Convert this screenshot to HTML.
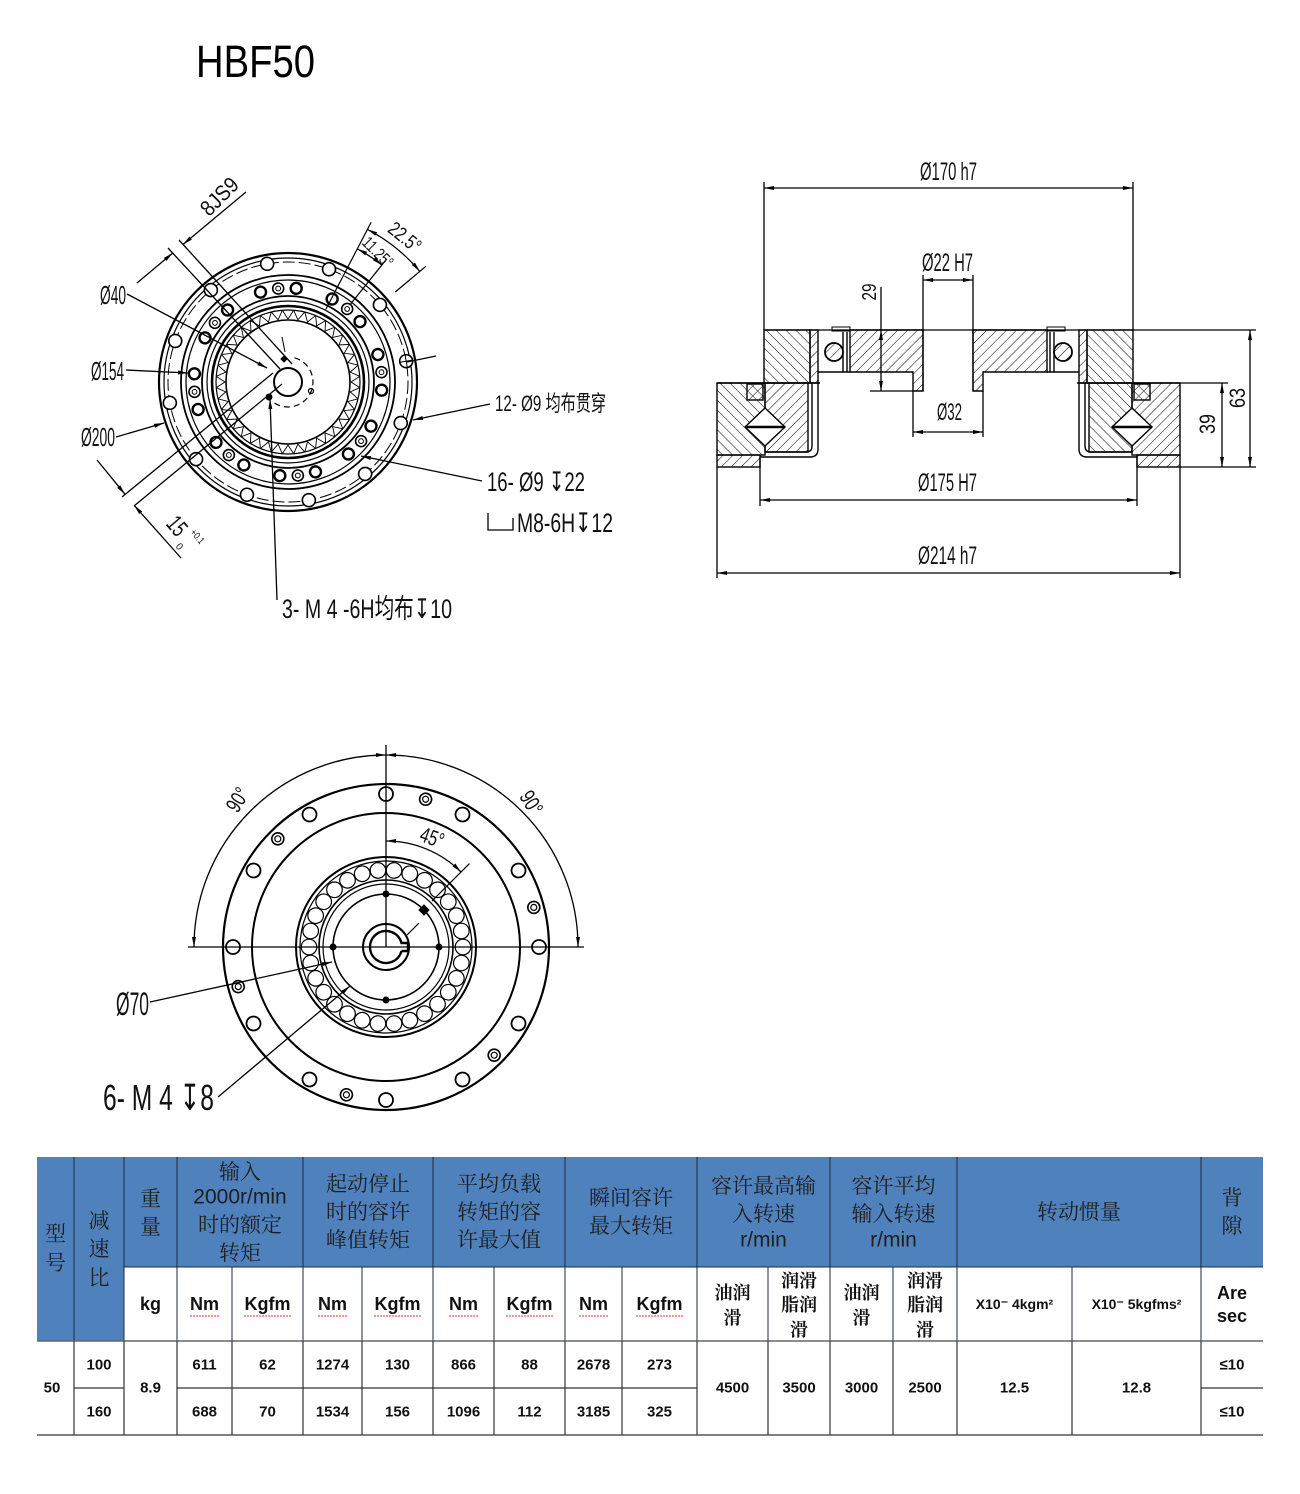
<!DOCTYPE html>
<html><head><meta charset="utf-8"><style>
html,body{margin:0;padding:0;background:#fff;}
svg{display:block}
.d{font-family:"Liberation Sans","Noto Sans CJK SC","DejaVu Sans",sans-serif;fill:#111;stroke:none}
.h{font-family:"Noto Serif CJK SC","Liberation Serif",serif;fill:#1e1e1e;stroke:none;font-size:21px}
.hs{font-family:"Liberation Sans",sans-serif;fill:#1e1e1e;stroke:none;font-size:21px}
.b{font-family:"Liberation Sans","Noto Sans CJK SC",sans-serif;font-weight:bold;fill:#111;stroke:none;font-size:18px}
.bc{font-family:"Noto Serif CJK SC","Noto Sans CJK SC",serif;font-weight:bold;fill:#111;stroke:none;font-size:18px}
.v{font-family:"Liberation Sans","DejaVu Sans",sans-serif;font-weight:bold;fill:#111;stroke:none;font-size:15px}
</style></head><body>
<svg width="1300" height="1494" viewBox="0 0 1300 1494" xmlns="http://www.w3.org/2000/svg">
<defs>
<marker id="ar" viewBox="0 0 10 10" refX="10" refY="5" markerWidth="10" markerHeight="10" markerUnits="userSpaceOnUse" orient="auto-start-reverse"><path d="M0,3 L10,5 L0,7z" fill="#000" stroke="none"/></marker>
<pattern id="hF" patternUnits="userSpaceOnUse" width="7" height="7" patternTransform="rotate(45)"><line x1="0" y1="0" x2="0" y2="7" stroke="#000" stroke-width="1"/></pattern>
<pattern id="hB" patternUnits="userSpaceOnUse" width="7" height="7" patternTransform="rotate(-45)"><line x1="0" y1="0" x2="0" y2="7" stroke="#000" stroke-width="1"/></pattern>
<g id="grp" fill="none" stroke="#000">
<circle cx="94" r="5.5" stroke-width="2.4" transform="rotate(-11)"/>
<circle cx="94" r="5.5" stroke-width="1.6"/>
<circle cx="94" r="2.4" stroke-width="1"/>
<circle cx="94" r="5.5" stroke-width="2.4" transform="rotate(11)"/>
</g>
<path id="th" d="M71.8,-5.65 L63,0 L71.8,5.65" fill="none" stroke="#000" stroke-width="0.9"/>
<circle id="rl" cx="77" r="7.8" fill="none" stroke="#000" stroke-width="1.2"/>
<g id="dh" fill="none" stroke="#000"><circle cx="153" r="6" stroke-width="1.6"/><circle cx="153" r="3" stroke-width="1.2"/></g>
</defs>

<!-- Title -->
<text x="196" y="77" font-size="45" textLength="119" lengthAdjust="spacingAndGlyphs" font-family="Liberation Sans, sans-serif" fill="#000">HBF50</text>

<!-- ============ TOP-LEFT FRONT VIEW ============ -->
<g fill="none" stroke="#000">
<g transform="translate(288,382)">
 <circle r="129" stroke-width="2.2"/>
 <circle r="124" stroke-width="1.2"/>
 <circle r="120" stroke-width="1" stroke-dasharray="12 4"/>
 <circle r="107" stroke-width="1.8"/>
 <circle r="102" stroke-width="1.2"/>
 <circle r="86" stroke-width="1.8"/>
 <circle r="81" stroke-width="1.2"/>
 <circle r="76" stroke-width="2.6"/>
 <circle r="72" stroke-width="1.2"/>
 <circle r="62" stroke-width="1.6"/>
 <g stroke-width="1.6" fill="#fff">
  <circle cx="120" r="6.5" transform="rotate(-100)"/>
  <circle cx="120" r="6.5" transform="rotate(-70)"/>
  <circle cx="120" r="6.5" transform="rotate(-40)"/>
  <circle cx="120" r="6.5" transform="rotate(-10)"/>
  <circle cx="120" r="6.5" transform="rotate(20)"/>
  <circle cx="120" r="6.5" transform="rotate(50)"/>
  <circle cx="120" r="6.5" transform="rotate(80)"/>
  <circle cx="120" r="6.5" transform="rotate(110)"/>
  <circle cx="120" r="6.5" transform="rotate(140)"/>
  <circle cx="120" r="6.5" transform="rotate(170)"/>
  <circle cx="120" r="6.5" transform="rotate(200)"/>
  <circle cx="120" r="6.5" transform="rotate(230)"/>
 </g>
 <g transform="rotate(-10)" stroke-width="1"><line x1="113" y1="0" x2="127" y2="0"/><line x1="120" y1="-7" x2="120" y2="7"/></g>
 <use href="#grp" transform="rotate(-96)"/>
 <use href="#grp" transform="rotate(-51)"/>
 <use href="#grp" transform="rotate(-6)"/>
 <use href="#grp" transform="rotate(39)"/>
 <use href="#grp" transform="rotate(84)"/>
 <use href="#grp" transform="rotate(129)"/>
 <use href="#grp" transform="rotate(174)"/>
 <use href="#grp" transform="rotate(219)"/>
 <use href="#th" transform="rotate(0)"/><use href="#th" transform="rotate(9)"/><use href="#th" transform="rotate(18)"/><use href="#th" transform="rotate(27)"/><use href="#th" transform="rotate(36)"/>
 <use href="#th" transform="rotate(45)"/><use href="#th" transform="rotate(54)"/><use href="#th" transform="rotate(63)"/><use href="#th" transform="rotate(72)"/><use href="#th" transform="rotate(81)"/>
 <use href="#th" transform="rotate(90)"/><use href="#th" transform="rotate(99)"/><use href="#th" transform="rotate(108)"/><use href="#th" transform="rotate(117)"/><use href="#th" transform="rotate(126)"/>
 <use href="#th" transform="rotate(135)"/><use href="#th" transform="rotate(144)"/><use href="#th" transform="rotate(153)"/><use href="#th" transform="rotate(162)"/><use href="#th" transform="rotate(171)"/>
 <use href="#th" transform="rotate(180)"/><use href="#th" transform="rotate(189)"/><use href="#th" transform="rotate(198)"/><use href="#th" transform="rotate(207)"/><use href="#th" transform="rotate(216)"/>
 <use href="#th" transform="rotate(225)"/><use href="#th" transform="rotate(234)"/><use href="#th" transform="rotate(243)"/><use href="#th" transform="rotate(252)"/><use href="#th" transform="rotate(261)"/>
 <use href="#th" transform="rotate(270)"/><use href="#th" transform="rotate(279)"/><use href="#th" transform="rotate(288)"/><use href="#th" transform="rotate(297)"/><use href="#th" transform="rotate(306)"/>
 <use href="#th" transform="rotate(315)"/><use href="#th" transform="rotate(324)"/><use href="#th" transform="rotate(333)"/><use href="#th" transform="rotate(342)"/><use href="#th" transform="rotate(351)"/>
 <circle r="14" stroke-width="2"/>
 <path d="M6.47,-24.15 A25,25 0 1 1 -14.34,20.48" stroke-width="1.2" stroke-dasharray="6 4"/>
 <path d="M-4,-26 L-1,-23 L-4,-20 L-7,-23Z" fill="#000"/>
 <circle cx="23" cy="9" r="2.5" stroke-width="1.2"/>
 <circle cx="-19" cy="15" r="3" fill="#000"/>
 <line x1="-6" y1="-45" x2="-3" y2="-30" stroke-width="1"/>
 <line x1="82" y1="0" x2="180" y2="0" stroke-width="1.2" transform="rotate(-62.5)"/>
 <line x1="140" y1="0" x2="180" y2="0" stroke-width="1.2" transform="rotate(-40)"/>
 <line x1="100" y1="0" x2="158" y2="0" stroke-width="1.2" transform="rotate(-51.25)"/>
</g>
<g stroke-width="1.3">
 <path d="M367.4,229.4 A172,172 0 0 1 419.8,271.4" marker-start="url(#ar)" marker-end="url(#ar)"/>
 <path d="M357.3,248.9 A150,150 0 0 1 381.9,265" marker-start="url(#ar)" marker-end="url(#ar)"/>
 <line x1="168" y1="248" x2="280" y2="369"/>
 <line x1="179" y1="240" x2="292" y2="364"/>
 <line x1="137" y1="283" x2="172.8" y2="253" marker-end="url(#ar)"/>
 <line x1="246" y1="192" x2="183" y2="244.5" marker-end="url(#ar)"/>
 <line x1="273" y1="373" x2="122" y2="497"/>
 <line x1="282" y1="384" x2="134" y2="506"/>
 <line x1="97" y1="460" x2="125" y2="494.2" marker-end="url(#ar)"/>
 <line x1="181" y1="558" x2="134.1" y2="505.3" marker-end="url(#ar)"/>
 <line x1="127" y1="294" x2="267" y2="368" marker-end="url(#ar)"/>
 <line x1="126" y1="370" x2="188" y2="373" marker-end="url(#ar)"/>
 <line x1="116" y1="437" x2="164" y2="423" marker-end="url(#ar)"/>
 <line x1="490" y1="404" x2="413" y2="420" marker-end="url(#ar)"/>
 <line x1="407" y1="362" x2="436" y2="356"/>
 <line x1="482" y1="481" x2="361" y2="456" marker-end="url(#ar)"/>
 <polyline points="488,513 488,530 513,530 513,518"/>
 <line x1="277" y1="600" x2="270" y2="399" marker-end="url(#ar)"/>
</g>
</g>
<g class="d">
 <text x="100" y="304" font-size="26" textLength="26" lengthAdjust="spacingAndGlyphs">Ø40</text>
 <text x="91" y="380" font-size="26" textLength="33" lengthAdjust="spacingAndGlyphs">Ø154</text>
 <text x="81" y="446" font-size="26" textLength="34" lengthAdjust="spacingAndGlyphs">Ø200</text>
 <text transform="translate(219,196) rotate(-45)" y="8" text-anchor="middle" font-size="22" textLength="44" lengthAdjust="spacingAndGlyphs">8JS9</text>
 <text transform="translate(405,237) rotate(39)" y="7" text-anchor="middle" font-size="20" textLength="36" lengthAdjust="spacingAndGlyphs">22.5°</text>
 <text transform="translate(378,252) rotate(45)" y="6" text-anchor="middle" font-size="17" textLength="36" lengthAdjust="spacingAndGlyphs">11.25°</text>
 <text transform="translate(177,526) rotate(50)" y="8" text-anchor="middle" font-size="24" textLength="18" lengthAdjust="spacingAndGlyphs">15</text>
 <text transform="translate(198,536) rotate(50)" y="4" text-anchor="middle" font-size="10" textLength="16" lengthAdjust="spacingAndGlyphs">+0.1</text>
 <text transform="translate(180,546) rotate(50)" y="4" text-anchor="middle" font-size="10">0</text>
 <text x="495" y="411" font-size="22" textLength="111" lengthAdjust="spacingAndGlyphs">12- Ø9 均布贯穿</text>
 <text x="487" y="491" font-size="27" textLength="98" lengthAdjust="spacingAndGlyphs">16- Ø9 ↧22</text>
 <text x="517" y="532" font-size="27" textLength="96" lengthAdjust="spacingAndGlyphs">M8-6H↧12</text>
 <text x="282" y="618" font-size="27" textLength="170" lengthAdjust="spacingAndGlyphs">3- M 4 -6H均布↧10</text>
</g>

<!-- ============ TOP-RIGHT SECTION VIEW ============ -->
<g stroke="#000" fill="none" stroke-width="1.4">
 <rect x="764" y="330" width="46" height="53" fill="url(#hB)"/>
 <rect x="810" y="330" width="8" height="53" fill="url(#hF)"/>
 <line x1="843" y1="332" x2="843" y2="372"/>
 <line x1="847" y1="332" x2="847" y2="372"/>
 <path d="M832,327 h18 v4 h-18z" stroke-width="1"/>
 <circle cx="834" cy="352" r="9" fill="url(#hF)" stroke-width="1.8"/>
 <path d="M850,330 H923 V391 H913 V372 H850 Z" fill="url(#hF)"/>
 <path d="M973,330 H1047 V372 H983 V391 H973 Z" fill="url(#hF)"/>
 <line x1="1050" y1="332" x2="1050" y2="372"/>
 <line x1="1054" y1="332" x2="1054" y2="372"/>
 <path d="M1047,327 h18 v4 h-18z" stroke-width="1"/>
 <circle cx="1063" cy="352" r="9" fill="url(#hF)" stroke-width="1.8"/>
 <rect x="1079" y="330" width="8" height="53" fill="url(#hF)"/>
 <rect x="1087" y="330" width="46" height="53" fill="url(#hB)"/>
 <line x1="818" y1="372" x2="850" y2="372"/>
 <line x1="1047" y1="372" x2="1079" y2="372"/>
 <rect x="717" y="383" width="48" height="72" fill="url(#hB)"/>
 <rect x="717" y="455" width="43" height="12" fill="url(#hF)"/>
 <rect x="765" y="383" width="43" height="69" fill="url(#hF)"/>
 <rect x="747" y="384" width="16" height="16" fill="url(#hF)"/>
 <path d="M760,457 H810 Q818,457 818,449 V383"/>
 <path d="M765,452 H806 Q812,452 812,446 V383"/>
 <path d="M745,427 L765,408 L785,427 L765,446 Z" fill="#fff"/>
 <line x1="745" y1="427" x2="785" y2="427" stroke-width="2.5"/>
 <rect x="1132" y="383" width="48" height="72" fill="url(#hF)"/>
 <rect x="1137" y="455" width="43" height="12" fill="url(#hF)"/>
 <rect x="1089" y="383" width="43" height="69" fill="url(#hB)"/>
 <rect x="1134" y="384" width="16" height="16" fill="url(#hB)"/>
 <path d="M1137,457 H1087 Q1079,457 1079,449 V383"/>
 <path d="M1132,452 H1091 Q1085,452 1085,446 V383"/>
 <path d="M1152,427 L1132,408 L1112,427 L1132,446 Z" fill="#fff"/>
 <line x1="1112" y1="427" x2="1152" y2="427" stroke-width="2.5"/>
 <line x1="717" y1="383" x2="820" y2="383"/>
 <line x1="1077" y1="383" x2="1180" y2="383"/>
</g>
<g stroke="#000" fill="none" stroke-width="1.3">
 <line x1="764" y1="330" x2="1256" y2="330"/>
 <line x1="764" y1="182" x2="764" y2="330"/>
 <line x1="1133" y1="182" x2="1133" y2="330"/>
 <line x1="764" y1="188" x2="1133" y2="188" marker-start="url(#ar)" marker-end="url(#ar)"/>
 <line x1="923" y1="275" x2="923" y2="391"/>
 <line x1="973" y1="275" x2="973" y2="391"/>
 <line x1="923" y1="280" x2="973" y2="280" marker-start="url(#ar)" marker-end="url(#ar)"/>
 <line x1="881" y1="287" x2="881" y2="330"/>
 <line x1="881" y1="330" x2="881" y2="391" marker-start="url(#ar)" marker-end="url(#ar)"/>
 <line x1="870" y1="391" x2="913" y2="391"/>
 <line x1="913" y1="391" x2="913" y2="437"/>
 <line x1="983" y1="391" x2="983" y2="437"/>
 <line x1="913" y1="432" x2="983" y2="432" marker-start="url(#ar)" marker-end="url(#ar)"/>
 <line x1="760" y1="457" x2="760" y2="506"/>
 <line x1="1137" y1="457" x2="1137" y2="506"/>
 <line x1="760" y1="500" x2="1137" y2="500" marker-start="url(#ar)" marker-end="url(#ar)"/>
 <line x1="717" y1="467" x2="717" y2="578"/>
 <line x1="1180" y1="467" x2="1180" y2="578"/>
 <line x1="717" y1="573" x2="1180" y2="573" marker-start="url(#ar)" marker-end="url(#ar)"/>
 <line x1="1180" y1="383" x2="1228" y2="383"/>
 <line x1="1180" y1="467" x2="1256" y2="467"/>
 <line x1="1222" y1="383" x2="1222" y2="467" marker-start="url(#ar)" marker-end="url(#ar)"/>
 <line x1="1250" y1="330" x2="1250" y2="467" marker-start="url(#ar)" marker-end="url(#ar)"/>
</g>
<g class="d">
 <text x="920" y="180" font-size="25" textLength="57" lengthAdjust="spacingAndGlyphs">Ø170 h7</text>
 <text x="922" y="271" font-size="25" textLength="51" lengthAdjust="spacingAndGlyphs">Ø22 H7</text>
 <text transform="translate(869,292) rotate(-90)" y="7" text-anchor="middle" font-size="20" textLength="17" lengthAdjust="spacingAndGlyphs">29</text>
 <text x="937" y="420" font-size="24" textLength="25" lengthAdjust="spacingAndGlyphs">Ø32</text>
 <text x="918" y="491" font-size="25" textLength="59" lengthAdjust="spacingAndGlyphs">Ø175 H7</text>
 <text x="918" y="564" font-size="25" textLength="59" lengthAdjust="spacingAndGlyphs">Ø214 h7</text>
 <text transform="translate(1207,424) rotate(-90)" y="8" text-anchor="middle" font-size="22" textLength="20" lengthAdjust="spacingAndGlyphs">39</text>
 <text transform="translate(1237,398) rotate(-90)" y="8" text-anchor="middle" font-size="22" textLength="20" lengthAdjust="spacingAndGlyphs">63</text>
</g>

<!-- ============ BOTTOM VIEW ============ -->
<g fill="none" stroke="#000">
<g transform="translate(386,947)">
 <circle r="163" stroke-width="2.2"/>
 <circle r="134" stroke-width="2"/>
 <g stroke-width="1.8" fill="#fff">
  <circle cx="153" r="7" transform="rotate(-90)"/>
  <circle cx="153" r="7" transform="rotate(-60)"/>
  <circle cx="153" r="7" transform="rotate(-30)"/>
  <circle cx="153" r="7" transform="rotate(0)"/>
  <circle cx="153" r="7" transform="rotate(30)"/>
  <circle cx="153" r="7" transform="rotate(60)"/>
  <circle cx="153" r="7" transform="rotate(90)"/>
  <circle cx="153" r="7" transform="rotate(120)"/>
  <circle cx="153" r="7" transform="rotate(150)"/>
  <circle cx="153" r="7" transform="rotate(180)"/>
  <circle cx="153" r="7" transform="rotate(210)"/>
  <circle cx="153" r="7" transform="rotate(240)"/>
 </g>
 <use href="#dh" transform="rotate(-75)"/>
 <use href="#dh" transform="rotate(-15)"/>
 <use href="#dh" transform="rotate(45)"/>
 <use href="#dh" transform="rotate(105)"/>
 <use href="#dh" transform="rotate(165)"/>
 <use href="#dh" transform="rotate(225)"/>
 <circle r="90" stroke-width="2"/>
 <circle r="86" stroke-width="1.2"/>
 <use href="#rl" transform="rotate(0)"/><use href="#rl" transform="rotate(12)"/><use href="#rl" transform="rotate(24)"/><use href="#rl" transform="rotate(36)"/><use href="#rl" transform="rotate(48)"/>
 <use href="#rl" transform="rotate(60)"/><use href="#rl" transform="rotate(72)"/><use href="#rl" transform="rotate(84)"/><use href="#rl" transform="rotate(96)"/><use href="#rl" transform="rotate(108)"/>
 <use href="#rl" transform="rotate(120)"/><use href="#rl" transform="rotate(132)"/><use href="#rl" transform="rotate(144)"/><use href="#rl" transform="rotate(156)"/><use href="#rl" transform="rotate(168)"/>
 <use href="#rl" transform="rotate(180)"/><use href="#rl" transform="rotate(192)"/><use href="#rl" transform="rotate(204)"/><use href="#rl" transform="rotate(216)"/><use href="#rl" transform="rotate(228)"/>
 <use href="#rl" transform="rotate(240)"/><use href="#rl" transform="rotate(252)"/><use href="#rl" transform="rotate(264)"/><use href="#rl" transform="rotate(276)"/><use href="#rl" transform="rotate(288)"/>
 <use href="#rl" transform="rotate(300)"/><use href="#rl" transform="rotate(312)"/><use href="#rl" transform="rotate(324)"/><use href="#rl" transform="rotate(336)"/><use href="#rl" transform="rotate(348)"/>
 <circle r="67" stroke-width="1.6"/>
 <circle r="63" stroke-width="1.2"/>
 <circle r="53" stroke-width="1.6"/>
 <g fill="#000" stroke="none">
  <circle cx="0" cy="-53" r="3.5"/><circle cx="53" cy="0" r="3.5"/><circle cx="-53" cy="0" r="3.5"/><circle cx="0" cy="53" r="3.5"/>
 </g>
 <path d="M38,-42 L43,-37 L38,-32 L33,-37Z" fill="#000"/>
 <line x1="21" y1="-12" x2="33" y2="-24" stroke-width="1.2"/>
 <circle r="23" stroke-width="2"/>
 <path d="M15.5,4 L22,4 L22,-4 L15.5,-4 A16,16 0 1 0 15.5,4" stroke-width="2.4"/>
 <line x1="65" y1="0" x2="118" y2="0" stroke-width="1.2" transform="rotate(-45)"/>
</g>
<g stroke-width="1.3">
 <line x1="188" y1="947" x2="584" y2="947"/>
 <line x1="386" y1="745" x2="386" y2="947"/>
 <path d="M386,755 A192,192 0 0 0 194,947" marker-start="url(#ar)" marker-end="url(#ar)"/>
 <path d="M386,755 A192,192 0 0 1 578,947" marker-start="url(#ar)" marker-end="url(#ar)"/>
 <path d="M386,841 A106,106 0 0 1 461,872" marker-start="url(#ar)" marker-end="url(#ar)"/>
 <line x1="150" y1="1002" x2="332" y2="962" marker-end="url(#ar)"/>
 <line x1="218" y1="1097" x2="350" y2="986" marker-end="url(#ar)"/>
</g>
</g>
<g class="d">
 <text transform="translate(238,800) rotate(-58)" y="7" text-anchor="middle" font-size="22" textLength="24" lengthAdjust="spacingAndGlyphs">90°</text>
 <text transform="translate(531,803) rotate(58)" y="7" text-anchor="middle" font-size="22" textLength="24" lengthAdjust="spacingAndGlyphs">90°</text>
 <text transform="translate(432,838) rotate(20)" y="7" text-anchor="middle" font-size="22" textLength="24" lengthAdjust="spacingAndGlyphs">45°</text>
 <text x="116" y="1015" font-size="32" textLength="33" lengthAdjust="spacingAndGlyphs">Ø70</text>
 <text x="103" y="1110" font-size="36" textLength="111" lengthAdjust="spacingAndGlyphs">6- M 4 ↧8</text>
</g>

<!-- ============ TABLE ============ -->
<rect x="37" y="1157" width="1226" height="110" fill="#4F81BD"/>
<rect x="37" y="1267" width="87" height="74" fill="#4F81BD"/>
<g stroke="#1b2a40" stroke-width="1" fill="none">
 <line x1="74" y1="1157" x2="74" y2="1341"/>
 <line x1="124" y1="1157" x2="124" y2="1341"/>
 <line x1="177" y1="1157" x2="177" y2="1341"/>
 <line x1="303" y1="1157" x2="303" y2="1341"/>
 <line x1="433" y1="1157" x2="433" y2="1341"/>
 <line x1="565" y1="1157" x2="565" y2="1341"/>
 <line x1="697" y1="1157" x2="697" y2="1341"/>
 <line x1="830" y1="1157" x2="830" y2="1341"/>
 <line x1="957" y1="1157" x2="957" y2="1341"/>
 <line x1="1201" y1="1157" x2="1201" y2="1341"/>
 <line x1="124" y1="1267" x2="1263" y2="1267"/>
 <line x1="232" y1="1267" x2="232" y2="1341"/>
 <line x1="362" y1="1267" x2="362" y2="1341"/>
 <line x1="494" y1="1267" x2="494" y2="1341"/>
 <line x1="622" y1="1267" x2="622" y2="1341"/>
 <line x1="768" y1="1267" x2="768" y2="1341"/>
 <line x1="893" y1="1267" x2="893" y2="1341"/>
 <line x1="1072" y1="1267" x2="1072" y2="1341"/>
</g>
<g stroke="#333" stroke-width="1.2" fill="none">
 <line x1="37" y1="1341" x2="1263" y2="1341" stroke="#666" stroke-width="1.6"/>
 <line x1="74" y1="1388" x2="124" y2="1388"/>
 <line x1="177" y1="1388" x2="697" y2="1388"/>
 <line x1="1201" y1="1388" x2="1263" y2="1388"/>
 <line x1="37" y1="1435" x2="1263" y2="1435"/>
 <line x1="74" y1="1341" x2="74" y2="1435"/>
 <line x1="124" y1="1341" x2="124" y2="1435"/>
 <line x1="177" y1="1341" x2="177" y2="1435"/>
 <line x1="232" y1="1341" x2="232" y2="1435"/>
 <line x1="303" y1="1341" x2="303" y2="1435"/>
 <line x1="362" y1="1341" x2="362" y2="1435"/>
 <line x1="433" y1="1341" x2="433" y2="1435"/>
 <line x1="494" y1="1341" x2="494" y2="1435"/>
 <line x1="565" y1="1341" x2="565" y2="1435"/>
 <line x1="622" y1="1341" x2="622" y2="1435"/>
 <line x1="697" y1="1341" x2="697" y2="1435"/>
 <line x1="768" y1="1341" x2="768" y2="1435"/>
 <line x1="830" y1="1341" x2="830" y2="1435"/>
 <line x1="893" y1="1341" x2="893" y2="1435"/>
 <line x1="957" y1="1341" x2="957" y2="1435"/>
 <line x1="1072" y1="1341" x2="1072" y2="1435"/>
 <line x1="1201" y1="1341" x2="1201" y2="1435"/>
</g>
<g text-anchor="middle" dominant-baseline="central">
 <text class="h" x="55.5" y="1233">型</text>
 <text class="h" x="55.5" y="1262">号</text>
 <text class="h" x="99" y="1220">减</text>
 <text class="h" x="99" y="1248">速</text>
 <text class="h" x="99" y="1277">比</text>
 <text class="h" x="150.5" y="1198">重</text>
 <text class="h" x="150.5" y="1226">量</text>
 <text class="h" x="240" y="1171">输入</text>
 <text class="hs" x="240" y="1197">2000r/min</text>
 <text class="h" x="240" y="1224">时的额定</text>
 <text class="h" x="240" y="1252">转矩</text>
 <text class="h" x="368" y="1183">起动停止</text>
 <text class="h" x="368" y="1211">时的容许</text>
 <text class="h" x="368" y="1239">峰值转矩</text>
 <text class="h" x="499" y="1183">平均负载</text>
 <text class="h" x="499" y="1211">转矩的容</text>
 <text class="h" x="499" y="1239">许最大值</text>
 <text class="h" x="631" y="1197">瞬间容许</text>
 <text class="h" x="631" y="1225">最大转矩</text>
 <text class="h" x="763.5" y="1185">容许最高输</text>
 <text class="h" x="763.5" y="1213">入转速</text>
 <text class="hs" x="763.5" y="1240">r/min</text>
 <text class="h" x="893.5" y="1185">容许平均</text>
 <text class="h" x="893.5" y="1213">输入转速</text>
 <text class="hs" x="893.5" y="1240">r/min</text>
 <text class="h" x="1079" y="1211">转动惯量</text>
 <text class="h" x="1232" y="1197">背</text>
 <text class="h" x="1232" y="1225">隙</text>

 <text class="b" x="150.5" y="1304">kg</text>
 <text class="b" x="204.5" y="1304">Nm</text>
 <text class="b" x="267.5" y="1304">Kgfm</text>
 <text class="b" x="332.5" y="1304">Nm</text>
 <text class="b" x="397.5" y="1304">Kgfm</text>
 <text class="b" x="463.5" y="1304">Nm</text>
 <text class="b" x="529.5" y="1304">Kgfm</text>
 <text class="b" x="593.5" y="1304">Nm</text>
 <text class="b" x="659.5" y="1304">Kgfm</text>
 <text class="bc" x="732.5" y="1292">油润</text>
 <text class="bc" x="732.5" y="1317">滑</text>
 <text class="bc" x="799" y="1280">润滑</text>
 <text class="bc" x="799" y="1304">脂润</text>
 <text class="bc" x="799" y="1329">滑</text>
 <text class="bc" x="861.5" y="1292">油润</text>
 <text class="bc" x="861.5" y="1317">滑</text>
 <text class="bc" x="925" y="1280">润滑</text>
 <text class="bc" x="925" y="1304">脂润</text>
 <text class="bc" x="925" y="1329">滑</text>
 <text class="b" x="1014.5" y="1304" style="font-size:14px">X10⁻  4kgm²</text>
 <text class="b" x="1136.5" y="1304" style="font-size:14px">X10⁻  5kgfms²</text>
 <text class="b" x="1232" y="1293">Are</text>
 <text class="b" x="1232" y="1316">sec</text>

 <text class="v" x="52" y="1388">50</text>
 <text class="v" x="99" y="1365">100</text>
 <text class="v" x="99" y="1412">160</text>
 <text class="v" x="150.5" y="1388">8.9</text>
 <text class="v" x="204.5" y="1365">611</text>
 <text class="v" x="267.5" y="1365">62</text>
 <text class="v" x="332.5" y="1365">1274</text>
 <text class="v" x="397.5" y="1365">130</text>
 <text class="v" x="463.5" y="1365">866</text>
 <text class="v" x="529.5" y="1365">88</text>
 <text class="v" x="593.5" y="1365">2678</text>
 <text class="v" x="659.5" y="1365">273</text>
 <text class="v" x="204.5" y="1412">688</text>
 <text class="v" x="267.5" y="1412">70</text>
 <text class="v" x="332.5" y="1412">1534</text>
 <text class="v" x="397.5" y="1412">156</text>
 <text class="v" x="463.5" y="1412">1096</text>
 <text class="v" x="529.5" y="1412">112</text>
 <text class="v" x="593.5" y="1412">3185</text>
 <text class="v" x="659.5" y="1412">325</text>
 <text class="v" x="732.5" y="1388">4500</text>
 <text class="v" x="799" y="1388">3500</text>
 <text class="v" x="861.5" y="1388">3000</text>
 <text class="v" x="925" y="1388">2500</text>
 <text class="v" x="1014.5" y="1388">12.5</text>
 <text class="v" x="1136.5" y="1388">12.8</text>
 <text class="v" x="1232" y="1365">≤10</text>
 <text class="v" x="1232" y="1412">≤10</text>
</g>
<g stroke="#e03030" stroke-width="1" stroke-dasharray="2 1" fill="none">
 <line x1="190" y1="1316" x2="219" y2="1316"/>
 <line x1="244" y1="1316" x2="291" y2="1316"/>
 <line x1="318" y1="1316" x2="347" y2="1316"/>
 <line x1="374" y1="1316" x2="421" y2="1316"/>
 <line x1="449" y1="1316" x2="478" y2="1316"/>
 <line x1="506" y1="1316" x2="553" y2="1316"/>
 <line x1="579" y1="1316" x2="608" y2="1316"/>
 <line x1="636" y1="1316" x2="683" y2="1316"/>
</g>
</svg>
</body></html>
